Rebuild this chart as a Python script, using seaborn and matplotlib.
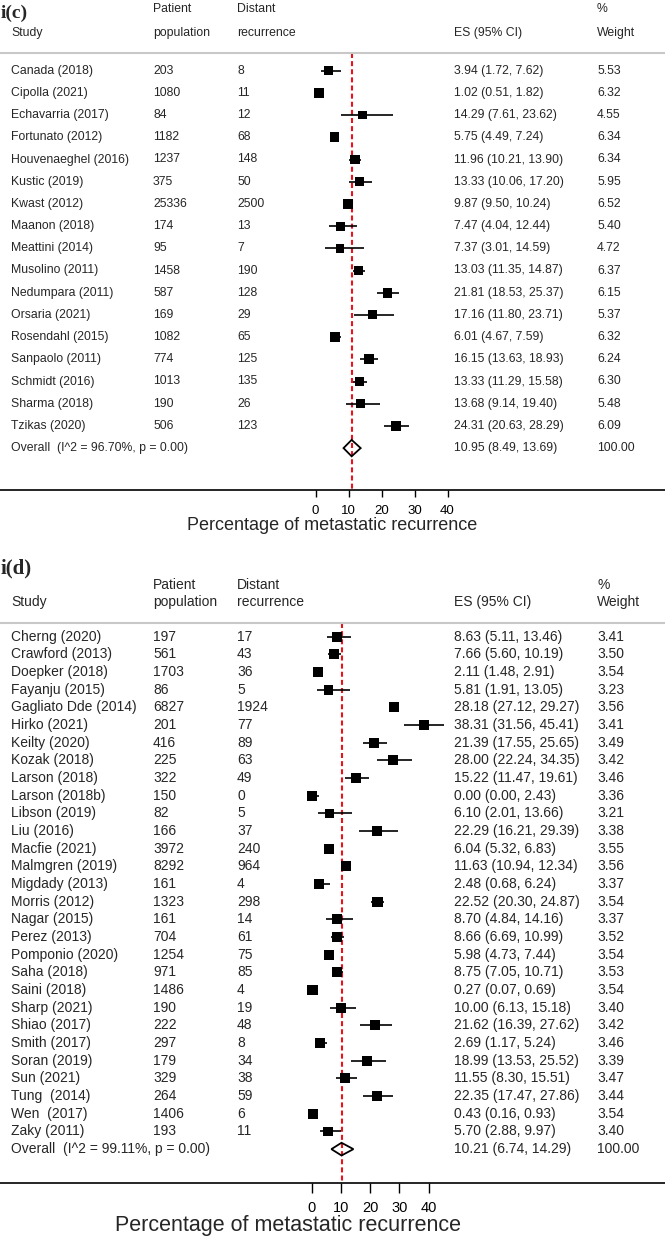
import numpy as np
import pandas as pd
import matplotlib
matplotlib.use("Agg")
import matplotlib.pyplot as plt
import matplotlib.transforms as mtransforms
from matplotlib.patches import Polygon
import seaborn as sns

# ---- panel i(c) data ----
studies_c = ["Canada (2018)", "Cipolla (2021)", "Echavarria (2017)", "Fortunato (2012)",
             "Houvenaeghel (2016)", "Kustic (2019)", "Kwast (2012)", "Maanon (2018)",
             "Meattini (2014)", "Musolino (2011)", "Nedumpara (2011)", "Orsaria (2021)",
             "Rosendahl (2015)", "Sanpaolo (2011)", "Schmidt (2016)", "Sharma (2018)",
             "Tzikas (2020)"]
pop_c = [203, 1080, 84, 1182, 1237, 375, 25336, 174, 95, 1458, 587, 169, 1082, 774, 1013, 190, 506]
dist_c = [8, 11, 12, 68, 148, 50, 2500, 13, 7, 190, 128, 29, 65, 125, 135, 26, 123]
es_c = [3.94, 1.02, 14.29, 5.75, 11.96, 13.33, 9.87, 7.47, 7.37, 13.03, 21.81, 17.16, 6.01,
        16.15, 13.33, 13.68, 24.31]
lo_c = [1.72, 0.51, 7.61, 4.49, 10.21, 10.06, 9.50, 4.04, 3.01, 11.35, 18.53, 11.80, 4.67,
        13.63, 11.29, 9.14, 20.63]
hi_c = [7.62, 1.82, 23.62, 7.24, 13.90, 17.20, 10.24, 12.44, 14.59, 14.87, 25.37, 23.71, 7.59,
        18.93, 15.58, 19.40, 28.29]
w_c = [5.53, 6.32, 4.55, 6.34, 6.34, 5.95, 6.52, 5.40, 4.72, 6.37, 6.15, 5.37, 6.32, 6.24,
       6.30, 5.48, 6.09]
overall_c = ("Overall  (I^2 = 96.70%, p = 0.00)", 10.95, 8.49, 13.69)

# ---- panel i(d) data ----
studies_d = ["Cherng (2020)", "Crawford (2013)", "Doepker (2018)", "Fayanju (2015)",
             "Gagliato Dde (2014)", "Hirko (2021)", "Keilty (2020)", "Kozak (2018)",
             "Larson (2018)", "Larson (2018b)", "Libson (2019)", "Liu (2016)", "Macfie (2021)",
             "Malmgren (2019)", "Migdady (2013)", "Morris (2012)", "Nagar (2015)", "Perez (2013)",
             "Pomponio (2020)", "Saha (2018)", "Saini (2018)", "Sharp (2021)", "Shiao (2017)",
             "Smith (2017)", "Soran (2019)", "Sun (2021)", "Tung  (2014)", "Wen  (2017)",
             "Zaky (2011)"]
pop_d = [197, 561, 1703, 86, 6827, 201, 416, 225, 322, 150, 82, 166, 3972, 8292, 161, 1323,
         161, 704, 1254, 971, 1486, 190, 222, 297, 179, 329, 264, 1406, 193]
dist_d = [17, 43, 36, 5, 1924, 77, 89, 63, 49, 0, 5, 37, 240, 964, 4, 298, 14, 61, 75, 85, 4,
          19, 48, 8, 34, 38, 59, 6, 11]
es_d = [8.63, 7.66, 2.11, 5.81, 28.18, 38.31, 21.39, 28.00, 15.22, 0.00, 6.10, 22.29, 6.04,
        11.63, 2.48, 22.52, 8.70, 8.66, 5.98, 8.75, 0.27, 10.00, 21.62, 2.69, 18.99, 11.55,
        22.35, 0.43, 5.70]
lo_d = [5.11, 5.60, 1.48, 1.91, 27.12, 31.56, 17.55, 22.24, 11.47, 0.00, 2.01, 16.21, 5.32,
        10.94, 0.68, 20.30, 4.84, 6.69, 4.73, 7.05, 0.07, 6.13, 16.39, 1.17, 13.53, 8.30,
        17.47, 0.16, 2.88]
hi_d = [13.46, 10.19, 2.91, 13.05, 29.27, 45.41, 25.65, 34.35, 19.61, 2.43, 13.66, 29.39, 6.83,
        12.34, 6.24, 24.87, 14.16, 10.99, 7.44, 10.71, 0.69, 15.18, 27.62, 5.24, 25.52, 15.51,
        27.86, 0.93, 9.97]
w_d = [3.41, 3.50, 3.54, 3.23, 3.56, 3.41, 3.49, 3.42, 3.46, 3.36, 3.21, 3.38, 3.55, 3.56, 3.37,
       3.54, 3.37, 3.52, 3.54, 3.53, 3.54, 3.40, 3.42, 3.46, 3.39, 3.47, 3.44, 3.54, 3.40]
overall_d = ("Overall  (I^2 = 99.11%, p = 0.00)", 10.21, 6.74, 14.29)

xticks = [0, 10, 20, 30, 40]
xlabel = "Percentage of metastatic recurrence"

W, H = 665, 1239
sns.set_style("white")
plt.rcParams['font.family'] = ['Liberation Sans', 'DejaVu Sans']

fig = plt.figure(figsize=(W / 100, H / 100), dpi=100)


def fx(px):
    return px / W


def fy(py):
    return 1 - py / H


def draw_panel(tag, studies, pop, dist, es, lo, hi, w, overall, top, head1, head2, line_px,
               row0, step, axis_px, zero_px, unit_px, fs, tag_fs, tick_fs, tick_len, tick_pad,
               xlab_x, xlab_y, xlab_fs, size_k, diam_h):
    ax = fig.add_axes([0, fy(axis_px), 1, (axis_px - top) / H])
    ax.set_xlim(-zero_px / unit_px, (W - zero_px) / unit_px)
    ax.set_ylim((axis_px - row0) / step, (top - row0) / step)
    n = len(studies)
    df = pd.DataFrame({"row": np.arange(n), "es": es, "lo": lo, "hi": hi, "w": w})

    # CI lines and weighted squares
    ax.hlines(df["row"], df["lo"], df["hi"], color="black", lw=1.2, zorder=3)
    sns.scatterplot(data=df, x="es", y="row", size="w",
                    sizes=(size_k * min(w), size_k * max(w)), marker="s",
                    color="black", linewidth=0, legend=False, ax=ax, zorder=4)

    # overall diamond + dashed reference line
    label, oes, olo, ohi = overall
    ax.add_patch(Polygon([(olo, n), (oes, n - diam_h), (ohi, n), (oes, n + diam_h)],
                         closed=True, facecolor="none", edgecolor="black", lw=1.3, zorder=5))
    line_y = (line_px - row0) / step
    ax.vlines(oes, line_y, (axis_px - row0) / step, color="#e8141b", lw=1.5,
              linestyles=(0, (2.4, 1.5)), zorder=2)
    ax.axhline(line_y, color="#c8c8c8", lw=1.5)

    # axis
    for s in ["top", "left", "right"]:
        ax.spines[s].set_visible(False)
    ax.spines["bottom"].set_linewidth(1.2)
    ax.spines["bottom"].set_color("black")
    ax.set_yticks([])
    ax.set_xticks(xticks)
    ax.tick_params(axis="x", direction="out", length=tick_len, width=1, labelsize=tick_fs,
                   pad=tick_pad, colors="black", bottom=True)
    ax.set_xlabel("")
    ax.set_ylabel("")

    # table text
    tr = mtransforms.blended_transform_factory(fig.transFigure, ax.transData)
    for i in range(n):
        ax.text(fx(11), i, studies[i], transform=tr, ha="left", va="center", fontsize=fs)
        ax.text(fx(153), i, str(pop[i]), transform=tr, ha="left", va="center", fontsize=fs)
        ax.text(fx(237), i, str(dist[i]), transform=tr, ha="left", va="center", fontsize=fs)
        ax.text(fx(454), i, f"{es[i]:.2f} ({lo[i]:.2f}, {hi[i]:.2f})", transform=tr,
                ha="left", va="center", fontsize=fs)
        ax.text(fx(597), i, f"{w[i]:.2f}", transform=tr, ha="left", va="center", fontsize=fs)
    ax.text(fx(11), n, label, transform=tr, ha="left", va="center", fontsize=fs)
    ax.text(fx(454), n, f"{oes:.2f} ({olo:.2f}, {ohi:.2f})", transform=tr,
            ha="left", va="center", fontsize=fs)
    ax.text(fx(597), n, "100.00", transform=tr, ha="left", va="center", fontsize=fs)

    # headers
    fig.text(fx(1), fy(tag[1]), tag[0], family="Liberation Serif", weight="bold",
             fontsize=tag_fs, ha="left", va="center")
    for x, t1, t2 in [(11, "", "Study"), (153, "Patient", "population"),
                      (237, "Distant", "recurrence"), (454, "", "ES (95% CI)"),
                      (597, "%", "Weight")]:
        if t1:
            fig.text(fx(x), fy(head1), t1, fontsize=fs, ha="left", va="center")
        fig.text(fx(x), fy(head2), t2, fontsize=fs, ha="left", va="center")

    fig.text(fx(xlab_x), fy(xlab_y), xlabel, fontsize=xlab_fs, ha="center", va="center")
    return ax


draw_panel(("i(c)", 13), studies_c, pop_c, dist_c, es_c, lo_c, hi_c, w_c, overall_c,
           top=0, head1=9, head2=33, line_px=53, row0=70.7, step=22.2, axis_px=490,
           zero_px=315.5, unit_px=3.3, fs=8.8, tag_fs=14, tick_fs=9.5, tick_len=5,
           tick_pad=5.5, xlab_x=332, xlab_y=526, xlab_fs=13, size_k=8.0, diam_h=0.37)

draw_panel(("i(d)", 568), studies_d, pop_d, dist_d, es_d, lo_d, hi_d, w_d, overall_d,
           top=545, head1=585, head2=602, line_px=622.7, row0=636.7, step=17.67, axis_px=1183,
           zero_px=311.7, unit_px=2.92, fs=10, tag_fs=15, tick_fs=10.5, tick_len=7,
           tick_pad=6, xlab_x=288, xlab_y=1225, xlab_fs=15.5, size_k=15.0, diam_h=0.36)

fig.savefig("out.png", dpi=100)
